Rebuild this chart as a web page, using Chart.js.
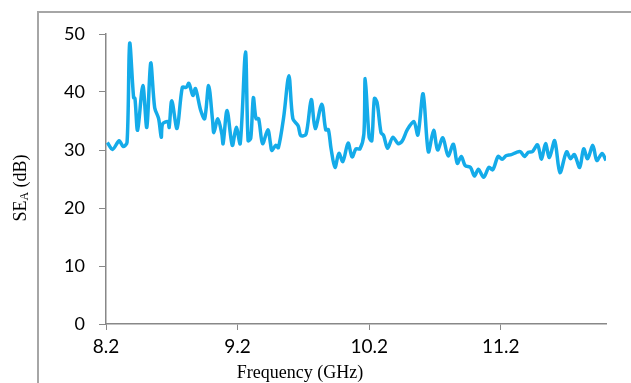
<!DOCTYPE html>
<html lang="en">
<head>
  <meta charset="UTF-8">
  <title>SE_A vs Frequency</title>
  <script src="https://cdn.jsdelivr.net/npm/chart.js"></script>
  <style>
    html, body { margin: 0; padding: 0; background: #fff; }
    #wrap { width: 631px; height: 383px; position: relative; }
  </style>
</head>
<body>
<div id="wrap"><canvas id="seChart" width="631" height="383"></canvas></div>
<script>
  // frequency (GHz) and shielding effectiveness SE_A (dB)
  const freq = [
    8.21, 8.25, 8.30, 8.33, 8.36, 8.38, 8.41, 8.42, 8.44, 8.48, 8.51, 8.54, 8.57, 8.60, 8.62, 8.63,
    8.67, 8.68, 8.70, 8.74, 8.78, 8.81, 8.83, 8.86, 8.88, 8.92, 8.95, 8.98, 9.01, 9.02, 9.05, 9.08,
    9.09, 9.12, 9.16, 9.19, 9.22, 9.26, 9.28, 9.30, 9.32, 9.34, 9.36, 9.39, 9.43, 9.45, 9.46, 9.49,
    9.51, 9.55, 9.59, 9.62, 9.66, 9.68, 9.72, 9.76, 9.79, 9.84, 9.87, 9.89, 9.91, 9.94, 9.97, 10.00,
    10.04, 10.07, 10.10, 10.13, 10.16, 10.17, 10.20, 10.22, 10.24, 10.26, 10.29, 10.31, 10.34, 10.38,
    10.42, 10.45, 10.49, 10.54, 10.57, 10.61, 10.65, 10.69, 10.72, 10.76, 10.80, 10.84, 10.87, 10.90,
    10.93, 10.97, 11.00, 11.03, 11.07, 11.11, 11.14, 11.18, 11.21, 11.24, 11.28, 11.32, 11.35, 11.38,
    11.41, 11.44, 11.48, 11.51, 11.54, 11.57, 11.61, 11.65, 11.70, 11.73, 11.76, 11.80, 11.83, 11.86,
    11.90, 11.93, 11.97, 12.00
  ];
  const seA = [
    31.3, 30.1, 31.6, 30.6, 31.3, 48.4, 39.0, 38.9, 33.4, 41.1, 33.9, 45.0, 37.3, 35.4, 32.2, 34.5,
    34.9, 33.9, 38.5, 33.7, 40.8, 40.8, 41.5, 39.4, 40.6, 36.8, 35.4, 41.1, 35.1, 33.0, 35.4, 32.8,
    31.1, 36.8, 30.8, 33.9, 31.1, 46.9, 31.6, 32.0, 39.0, 35.4, 35.4, 31.1, 33.5, 31.1, 29.9, 30.8,
    30.4, 35.6, 42.8, 35.4, 34.2, 32.5, 32.7, 38.7, 33.7, 37.9, 33.5, 33.5, 30.3, 27.0, 29.4, 28.0,
    31.2, 28.8, 30.2, 30.2, 32.8, 42.3, 32.2, 31.6, 38.9, 38.2, 33.0, 32.5, 30.3, 32.2,
    31.1, 31.5, 33.5, 34.9, 32.6, 39.7, 29.7, 33.4, 30.0, 32.1, 29.0, 31.0, 27.7, 28.9,
    27.3, 27.0, 25.5, 26.7, 25.3, 27.0, 26.6, 28.9, 28.4, 29.0, 29.2, 29.6, 29.7, 28.9,
    29.6, 29.7, 30.9, 28.4, 31.1, 28.7, 31.6, 26.1, 29.7, 28.5, 29.2, 27.0, 30.2, 28.5,
    30.8, 28.2, 29.4, 28.2
  ];
  const xTicks = [8.2, 9.2, 10.2, 11.2];
  const yTicks = [0, 10, 20, 30, 40, 50];

  // outer frame + axis titles (y title has a subscript, so drawn by hand)
  const decor = {
    id: 'decor',
    beforeDraw(chart) {
      const ctx = chart.ctx;
      ctx.save();
      ctx.strokeStyle = '#a6a6a6';
      ctx.lineWidth = 2;
      ctx.beginPath();
      ctx.moveTo(631, 12);
      ctx.lineTo(38, 12);
      ctx.lineTo(38, 383);
      ctx.stroke();
      ctx.restore();
    },
    afterDraw(chart) {
      const ctx = chart.ctx;
      ctx.save();
      ctx.fillStyle = '#000';
      ctx.textBaseline = 'middle';
      ctx.font = '18px "Liberation Serif"';
      ctx.textAlign = 'center';
      ctx.fillText('Frequency (GHz)', 300, 373);

      ctx.translate(21, 188);
      ctx.rotate(-Math.PI / 2);
      const p1 = 'SE', p2 = 'A', p3 = ' (dB)';
      const big = '18px "Liberation Serif"', small = '12px "Liberation Serif"';
      ctx.font = big;
      const w1 = ctx.measureText(p1).width, w3 = ctx.measureText(p3).width;
      ctx.font = small;
      const w2 = ctx.measureText(p2).width;
      let x = -(w1 + w2 + w3) / 2;
      ctx.textAlign = 'left';
      ctx.font = big;
      ctx.fillText(p1, x, 0);
      x += w1;
      ctx.font = small;
      ctx.fillText(p2, x, 4);
      x += w2;
      ctx.font = big;
      ctx.fillText(p3, x, 0);
      ctx.restore();
    }
  };

  new Chart(document.getElementById('seChart'), {
    type: 'line',
    data: {
      datasets: [{
        data: freq.map((f, i) => ({ x: f, y: seA[i] })),
        borderColor: '#14abe9',
        borderWidth: 3.5,
        pointRadius: 0,
        tension: 0.3,
        fill: false
      }]
    },
    options: {
      responsive: false,
      animation: false,
      events: [],
      layout: { padding: { top: 34, right: 25, left: 0, bottom: 0 } },
      plugins: { legend: { display: false }, tooltip: { enabled: false } },
      scales: {
        x: {
          type: 'linear',
          min: 8.2,
          max: 12.0,
          afterBuildTicks: s => { s.ticks = xTicks.map(v => ({ value: v })); },
          afterFit: s => { s.height = 59; },
          grid: { drawOnChartArea: false, drawTicks: true, tickLength: 6, color: '#888' },
          border: { display: true, color: '#888', width: 1.5 },
          ticks: {
            color: '#000',
            font: { family: 'Lato', size: 19 },
            padding: 5,
            maxRotation: 0,
            callback: v => v.toFixed(1)
          }
        },
        y: {
          min: 0,
          max: 50,
          afterBuildTicks: s => { s.ticks = yTicks.map(v => ({ value: v })); },
          afterFit: s => { s.width = 106; },
          grid: { drawOnChartArea: false, drawTicks: true, tickLength: 7, color: '#888' },
          border: { display: true, color: '#888', width: 1.5 },
          ticks: {
            color: '#000',
            font: { family: 'Lato', size: 18 },
            padding: 14
          }
        }
      }
    },
    plugins: [decor]
  });
</script>
</body>
</html>
